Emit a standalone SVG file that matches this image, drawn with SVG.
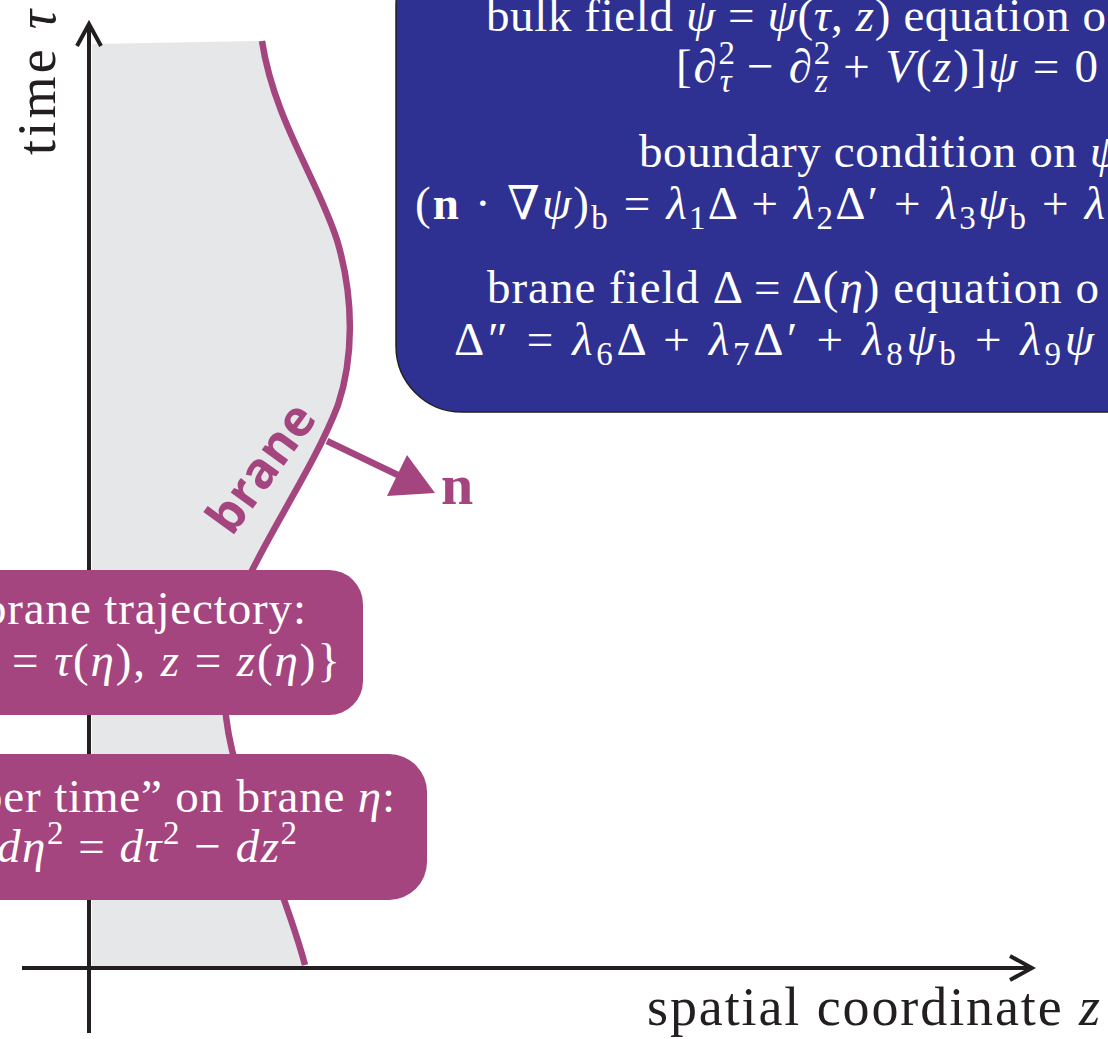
<svg xmlns="http://www.w3.org/2000/svg" width="1108" height="1039" viewBox="0 0 1108 1039">
<style>
.ser{font-family:"Liberation Serif","DejaVu Serif",serif;fill:#ffffff;font-size:47px}
.ax{font-family:"Liberation Serif","DejaVu Serif",serif;fill:#231f20;font-size:54px}
.i{font-style:italic}
.s{font-size:33px}
.axis{stroke:#231f20;stroke-width:4;fill:none}
.pur{fill:#a4457f}
</style>
<defs>
<marker id="chev" viewBox="0 0 30 30" refX="26" refY="15" markerWidth="30" markerHeight="30" markerUnits="userSpaceOnUse" orient="auto">
<path d="M4,3 L26,15 L4,27" fill="none" stroke="#231f20" stroke-width="4"/>
</marker>
</defs>
<g id="bulk-region">
<path d="M92,44 L262,41 C274,120 318,180 337,240 C355,300 353,360 338,405 C315,465 270,530 245,585 C220,640 220,700 232,750 C250,820 285,890 305,968 L92,968 Z" fill="#e6e7e8"/>
</g>
<g id="brane">
<path d="M262,41 C274,120 318,180 337,240 C355,300 353,360 338,405 C315,465 270,530 245,585 C220,640 220,700 232,750 C250,820 285,890 305,965" fill="none" stroke="#a4457f" stroke-width="6.5"/>
<text transform="translate(275,478) rotate(-54)" text-anchor="middle" font-family="'Open Sans','DejaVu Sans',sans-serif" font-weight="bold" font-size="50" fill="#a4457f">brane</text>
</g>
<g id="connectors">
<line x1="89" y1="1033" x2="89" y2="24" class="axis" marker-end="url(#chev)"/>
<line x1="22" y1="968" x2="1032" y2="968" class="axis" marker-end="url(#chev)"/>
<line x1="327" y1="441" x2="402" y2="477" stroke="#a4457f" stroke-width="6.5"/>
<polygon points="407,455 387,496 435,493" class="pur"/>
</g>
<g id="axis-labels">
<text class="ax" transform="translate(55,155) rotate(-90)" textLength="145">time <tspan class="i">τ</tspan></text>
<text class="ax" x="647" y="1025" textLength="453">spatial coordinate <tspan class="i">z</tspan></text>
<text x="441" y="504" font-family="'Liberation Serif','DejaVu Serif',serif" font-weight="bold" font-size="58" fill="#a4457f">n</text>
</g>
<g id="equations-box">
<rect x="396" y="-60" width="800" height="472" rx="66" ry="66" fill="#2e3192" stroke="#231f20" stroke-width="1.5"/>
<text class="ser" x="486" y="31" textLength="620">bulk field <tspan class="i">ψ</tspan> = <tspan class="i">ψ</tspan>(<tspan class="i">τ</tspan>, <tspan class="i">z</tspan>) equation o</text>
<text class="ser" x="676" y="82" textLength="422">[∂<tspan class="s" dy="-18">2</tspan><tspan class="s i" dx="-17" dy="28">τ</tspan><tspan dy="-10"> − ∂</tspan><tspan class="s" dy="-18">2</tspan><tspan class="s i" dx="-17" dy="28">z</tspan><tspan dy="-10"> + </tspan><tspan class="i">V</tspan>(<tspan class="i">z</tspan>)]<tspan class="i">ψ</tspan> = 0</text>
<text class="ser" x="639" y="167" textLength="480">boundary condition on <tspan class="i">ψ</tspan></text>
<text class="ser" x="415" y="219" textLength="690">(<tspan font-weight="bold">n</tspan> · ∇<tspan class="i">ψ</tspan>)<tspan class="s" dy="10">b</tspan><tspan dy="-10"> = </tspan><tspan class="i">λ</tspan><tspan class="s" dy="10">1</tspan><tspan dy="-10">Δ + </tspan><tspan class="i">λ</tspan><tspan class="s" dy="10">2</tspan><tspan dy="-10">Δ′ + </tspan><tspan class="i">λ</tspan><tspan class="s" dy="10">3</tspan><tspan class="i" dy="-10">ψ</tspan><tspan class="s" dy="10">b</tspan><tspan dy="-10"> + </tspan><tspan class="i">λ</tspan></text>
<text class="ser" x="487" y="303" textLength="612">brane field Δ = Δ(<tspan class="i">η</tspan>) equation o</text>
<text class="ser" x="454" y="355" textLength="640">Δ″ = <tspan class="i">λ</tspan><tspan class="s" dy="10">6</tspan><tspan dy="-10">Δ + </tspan><tspan class="i">λ</tspan><tspan class="s" dy="10">7</tspan><tspan dy="-10">Δ′ + </tspan><tspan class="i">λ</tspan><tspan class="s" dy="10">8</tspan><tspan class="i" dy="-10">ψ</tspan><tspan class="s" dy="10">b</tspan><tspan dy="-10"> + </tspan><tspan class="i">λ</tspan><tspan class="s" dy="10">9</tspan><tspan class="i" dy="-10">ψ</tspan></text>
</g>
<g id="trajectory-box">
<rect x="-60" y="570" width="423" height="145" rx="34" ry="34" class="pur"/>
<text class="ser" x="-17" y="624" textLength="323">brane trajectory:</text>
<text class="ser" x="12" y="676" textLength="328">= <tspan class="i">τ</tspan>(<tspan class="i">η</tspan>), <tspan class="i">z</tspan> = <tspan class="i">z</tspan>(<tspan class="i">η</tspan>)}</text>
</g>
<g id="proper-time-box">
<rect x="-60" y="754" width="487" height="146" rx="38" ry="38" class="pur"/>
<text class="ser" x="-21" y="812" textLength="416">per time” on brane <tspan class="i">η</tspan>:</text>
<text class="ser" x="-3" y="862" textLength="300"><tspan class="i">dη</tspan><tspan class="s" dy="-18">2</tspan><tspan dy="18"> = </tspan><tspan class="i">dτ</tspan><tspan class="s" dy="-18">2</tspan><tspan dy="18"> − </tspan><tspan class="i">dz</tspan><tspan class="s" dy="-18">2</tspan></text>
</g>
</svg>
